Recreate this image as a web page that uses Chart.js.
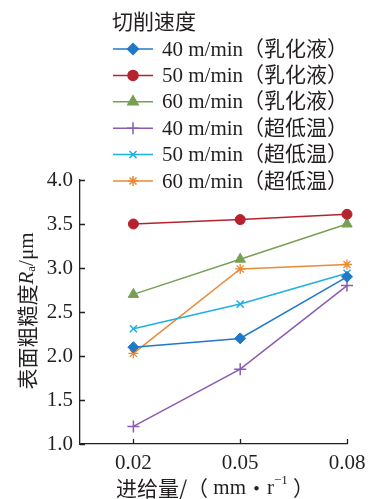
<!DOCTYPE html>
<html>
<head>
<meta charset="utf-8">
<script src="https://cdn.jsdelivr.net/npm/chart.js@4/dist/chart.umd.min.js"></script>
<style>
  html, body { margin: 0; padding: 0; background: #ffffff; }
  #wrap { width: 368px; height: 499px; }
</style>
</head>
<body>
<div id="wrap"><canvas id="c" width="368" height="499"></canvas></div>
<script>
// Feed rate (mm/r) on the x axis, surface roughness Ra (µm) on the y axis
const feedRates = [0.02, 0.05, 0.08];
const yTickValues = [1.0, 1.5, 2.0, 2.5, 3.0, 3.5, 4.0];

const legendTitle = '切削速度';
const seriesLabels = [
  '40 m/min（乳化液）',
  '50 m/min（乳化液）',
  '60 m/min（乳化液）',
  '40 m/min（超低温）',
  '50 m/min（超低温）',
  '60 m/min（超低温）'
];

// Ra values at 0.02 / 0.05 / 0.08 mm/r
const ra40Emulsion = [2.10, 2.20, 2.90];
const ra50Emulsion = [3.50, 3.55, 3.61];
const ra60Emulsion = [2.70, 3.10, 3.50];
const ra40Cryo     = [1.20, 1.85, 2.80];
const ra50Cryo     = [2.31, 2.59, 2.94];
const ra60Cryo     = [2.03, 2.99, 3.04];

const seriesValues = [ra40Emulsion, ra50Emulsion, ra60Emulsion, ra40Cryo, ra50Cryo, ra60Cryo];
const seriesColors = ['#1f78c8', '#b5232f', '#77a055', '#8b5bb0', '#1eb0e4', '#e98a35'];
const seriesMarkers = ['rectRot', 'circle', 'triangle', 'cross', 'crossRot', 'star'];
const markerSizes = [5.5, 5, 6, 6, 5, 5];
const markerBorders = [1, 1, 1, 1.5, 1.5, 1.3];

const textColor = '#231f20';
const serif = '"Liberation Serif", "Noto Sans CJK SC", serif';
const cjk = '"Noto Sans CJK SC", "Liberation Serif", sans-serif';
const fontPx = 21;

const datasets = seriesValues.map((vals, i) => ({
  label: seriesLabels[i],
  data: vals.map((v, j) => ({ x: feedRates[j], y: v })),
  borderColor: seriesColors[i],
  backgroundColor: seriesColors[i],
  pointBackgroundColor: seriesColors[i],
  pointBorderColor: seriesColors[i],
  pointStyle: seriesMarkers[i],
  pointRadius: markerSizes[i],
  pointBorderWidth: markerBorders[i],
  borderWidth: 1.5,
  tension: 0,
  fill: false,
  clip: false
}));

// Inward ticks, legend and axis titles
const decorPlugin = {
  id: 'decor',
  afterDraw(chart) {
    const ctx = chart.ctx;
    const area = chart.chartArea;
    const xs = chart.scales.x, ys = chart.scales.y;
    ctx.save();

    // inward tick marks
    ctx.strokeStyle = textColor;
    ctx.lineWidth = 1.3;
    ctx.beginPath();
    feedRates.forEach(v => {
      const px = Math.round(xs.getPixelForValue(v)) + 0.5;
      ctx.moveTo(px, area.bottom);
      ctx.lineTo(px, area.bottom - 5);
    });
    yTickValues.forEach(v => {
      const py = Math.round(ys.getPixelForValue(v)) + 0.5;
      ctx.moveTo(area.left, py);
      ctx.lineTo(area.left + 5, py);
    });
    ctx.stroke();

    // legend
    ctx.fillStyle = textColor;
    ctx.textBaseline = 'middle';
    ctx.textAlign = 'left';
    ctx.font = fontPx + 'px ' + cjk;
    ctx.fillText(legendTitle, 112, 21);
    chart.data.datasets.forEach((ds, i) => {
      const y = 49 + i * 26.4;
      ctx.strokeStyle = ds.borderColor;
      ctx.fillStyle = ds.borderColor;
      ctx.lineWidth = 1.5;
      ctx.beginPath();
      ctx.moveTo(113, y);
      ctx.lineTo(153, y);
      ctx.stroke();
      Chart.helpers.drawPoint(ctx, {
        pointStyle: ds.pointStyle,
        radius: ds.pointRadius,
        borderWidth: ds.pointBorderWidth,
        rotation: 0
      }, 133, y);
      ctx.fillStyle = textColor;
      ctx.font = fontPx + 'px ' + serif;
      ctx.fillText(ds.label, 162, y + 1);
    });

    // y axis title: 表面粗糙度 R_a /μm (rotated)
    ctx.save();
    ctx.translate(27, 311);
    ctx.rotate(-Math.PI / 2);
    const parts = [
      { t: '表面粗糙度', f: fontPx + 'px ' + cjk, dy: 0 },
      { t: 'R', f: 'italic ' + fontPx + 'px ' + serif, dy: 0 },
      { t: 'a', f: '13px ' + serif, dy: 5 },
      { t: '/μm', f: fontPx + 'px ' + serif, dy: 0 }
    ];
    let total = 0;
    parts.forEach(p => { ctx.font = p.f; p.w = ctx.measureText(p.t).width; total += p.w; });
    let cx = -total / 2;
    ctx.fillStyle = textColor;
    ctx.textBaseline = 'middle';
    parts.forEach(p => { ctx.font = p.f; ctx.fillText(p.t, cx, p.dy); cx += p.w; });
    ctx.restore();

    // x axis title: 进给量/（ mm・r⁻¹ ）
    const xparts = [
      { t: '进给量/（', f: fontPx + 'px ' + cjk, dy: 0 },
      { t: ' mm', f: fontPx + 'px ' + serif, dy: 0 },
      { t: '・', f: fontPx + 'px ' + cjk, dy: 0 },
      { t: 'r', f: fontPx + 'px ' + serif, dy: 0 },
      { t: '−1', f: '13px ' + serif, dy: -7 },
      { t: ' ', f: fontPx + 'px ' + serif, dy: 0 },
      { t: '）', f: fontPx + 'px ' + cjk, dy: 0 }
    ];
    total = 0;
    xparts.forEach(p => { ctx.font = p.f; p.w = ctx.measureText(p.t).width; total += p.w; });
    cx = 215 - total / 2;
    ctx.fillStyle = textColor;
    ctx.textBaseline = 'middle';
    xparts.forEach(p => { ctx.font = p.f; ctx.fillText(p.t, cx, 488 + p.dy); cx += p.w; });

    ctx.restore();
  }
};

new Chart(document.getElementById('c'), {
  type: 'line',
  data: { datasets },
  options: {
    responsive: false,
    animation: false,
    devicePixelRatio: 1,
    layout: { padding: { top: 180, right: 21, left: 0, bottom: 0 } },
    plugins: { legend: { display: false }, tooltip: { enabled: false } },
    scales: {
      x: {
        type: 'linear',
        min: 0.005,
        max: 0.08,
        afterBuildTicks: s => { s.ticks = feedRates.map(v => ({ value: v })); },
        afterFit: s => { s.height = 55; s.paddingLeft = 0; s.paddingRight = 0; },
        grid: { drawOnChartArea: false, drawTicks: false },
        border: { color: textColor, width: 1.3 },
        ticks: {
          color: textColor,
          font: { family: serif, size: fontPx },
          padding: 7,
          maxRotation: 0,
          callback: v => Number(v).toFixed(2)
        }
      },
      y: {
        type: 'linear',
        min: 1.0,
        max: 4.0,
        afterBuildTicks: s => { s.ticks = yTickValues.map(v => ({ value: v })); },
        afterFit: s => { s.width = 80; s.paddingTop = 0; s.paddingBottom = 0; },
        grid: { drawOnChartArea: false, drawTicks: false },
        border: { color: textColor, width: 1.3 },
        ticks: {
          color: textColor,
          font: { family: serif, size: fontPx },
          padding: 7,
          callback: v => Number(v).toFixed(1)
        }
      }
    }
  },
  plugins: [decorPlugin]
});
</script>
</body>
</html>
